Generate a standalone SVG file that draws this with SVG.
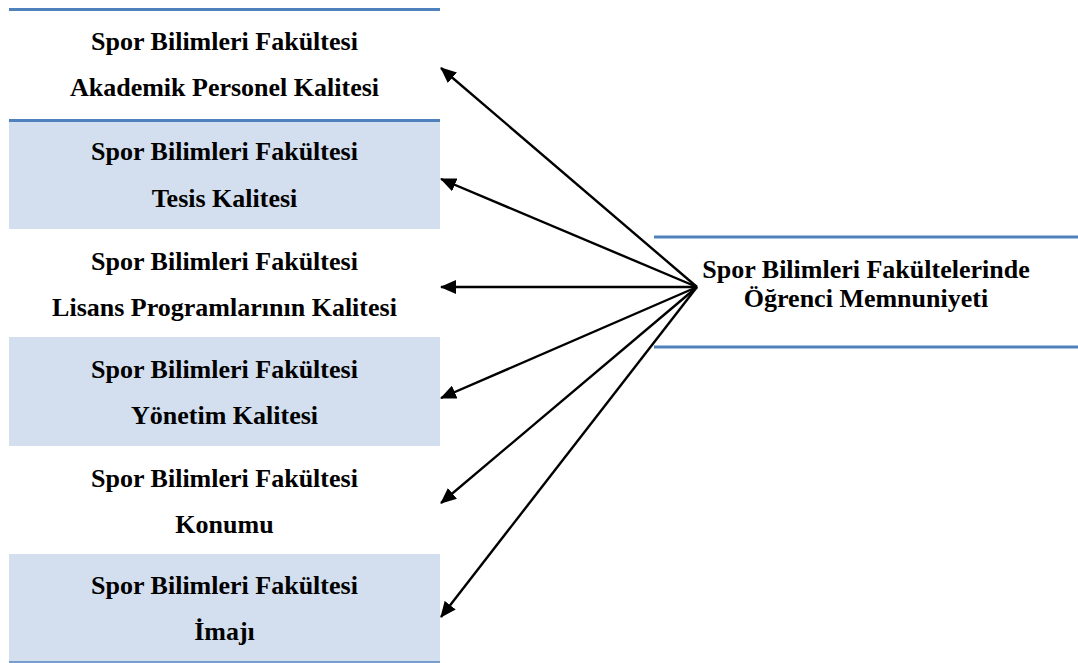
<svg xmlns="http://www.w3.org/2000/svg" width="1078" height="663" viewBox="0 0 1078 663">
<defs>
<style>
.t{font-family:"Liberation Serif","Times New Roman",serif;font-weight:bold;font-size:26px;fill:#000;text-anchor:middle}
.shade{fill:#d3dfee}
.rule{stroke:#4f81bd;stroke-width:3;fill:none}
.conn{stroke:#000;stroke-width:2.4;fill:none;marker-end:url(#ah)}
</style>
<marker id="ah" viewBox="0 0 16 14" refX="15" refY="7" markerWidth="16" markerHeight="14" markerUnits="userSpaceOnUse" orient="auto">
<path d="M0,0 L16,7 L0,14 z" fill="#000"/>
</marker>
</defs>
<rect width="1078" height="663" fill="#fff"/>
<g id="node-akademik">
<line class="rule" x1="9" y1="9.5" x2="440" y2="9.5"/>
<text class="t" x="224.5" y="50">Spor Bilimleri Fakültesi</text>
<text class="t" x="224.5" y="96">Akademik Personel Kalitesi</text>
</g>
<g id="node-tesis">
<rect class="shade" x="9" y="121" width="431" height="108"/>
<line class="rule" x1="9" y1="120.5" x2="440" y2="120.5"/>
<text class="t" x="224.5" y="160">Spor Bilimleri Fakültesi</text>
<text class="t" x="224.5" y="207">Tesis Kalitesi</text>
</g>
<g id="node-lisans">
<text class="t" x="224.5" y="270">Spor Bilimleri Fakültesi</text>
<text class="t" x="224.5" y="316">Lisans Programlarının Kalitesi</text>
</g>
<g id="node-yonetim">
<rect class="shade" x="9" y="337" width="431" height="109"/>
<text class="t" x="224.5" y="378">Spor Bilimleri Fakültesi</text>
<text class="t" x="224.5" y="424">Yönetim Kalitesi</text>
</g>
<g id="node-konum">
<text class="t" x="224.5" y="487">Spor Bilimleri Fakültesi</text>
<text class="t" x="224.5" y="533">Konumu</text>
</g>
<g id="node-imaj">
<rect class="shade" x="9" y="554" width="431" height="107.5"/>
<line x1="9" y1="662" x2="440" y2="662" stroke="#4f81bd" stroke-width="1.5"/>
<text class="t" x="224.5" y="594">Spor Bilimleri Fakültesi</text>
<text class="t" x="224.5" y="640">İmajı</text>
</g>
<g id="node-memnuniyet">
<line class="rule" x1="654" y1="237" x2="1078" y2="237"/>
<line class="rule" x1="654" y1="347" x2="1078" y2="347"/>
<text class="t" x="866" y="278">Spor Bilimleri Fakültelerinde</text>
<text class="t" x="866" y="307">Öğrenci Memnuniyeti</text>
</g>
<g id="connectors">
<line class="conn" x1="697" y1="287" x2="441" y2="68"/>
<line class="conn" x1="697" y1="287" x2="441" y2="179"/>
<line class="conn" x1="697" y1="287" x2="441" y2="287"/>
<line class="conn" x1="697" y1="287" x2="441" y2="398"/>
<line class="conn" x1="697" y1="287" x2="441" y2="503"/>
<line class="conn" x1="697" y1="287" x2="441" y2="617"/>
</g>
</svg>
